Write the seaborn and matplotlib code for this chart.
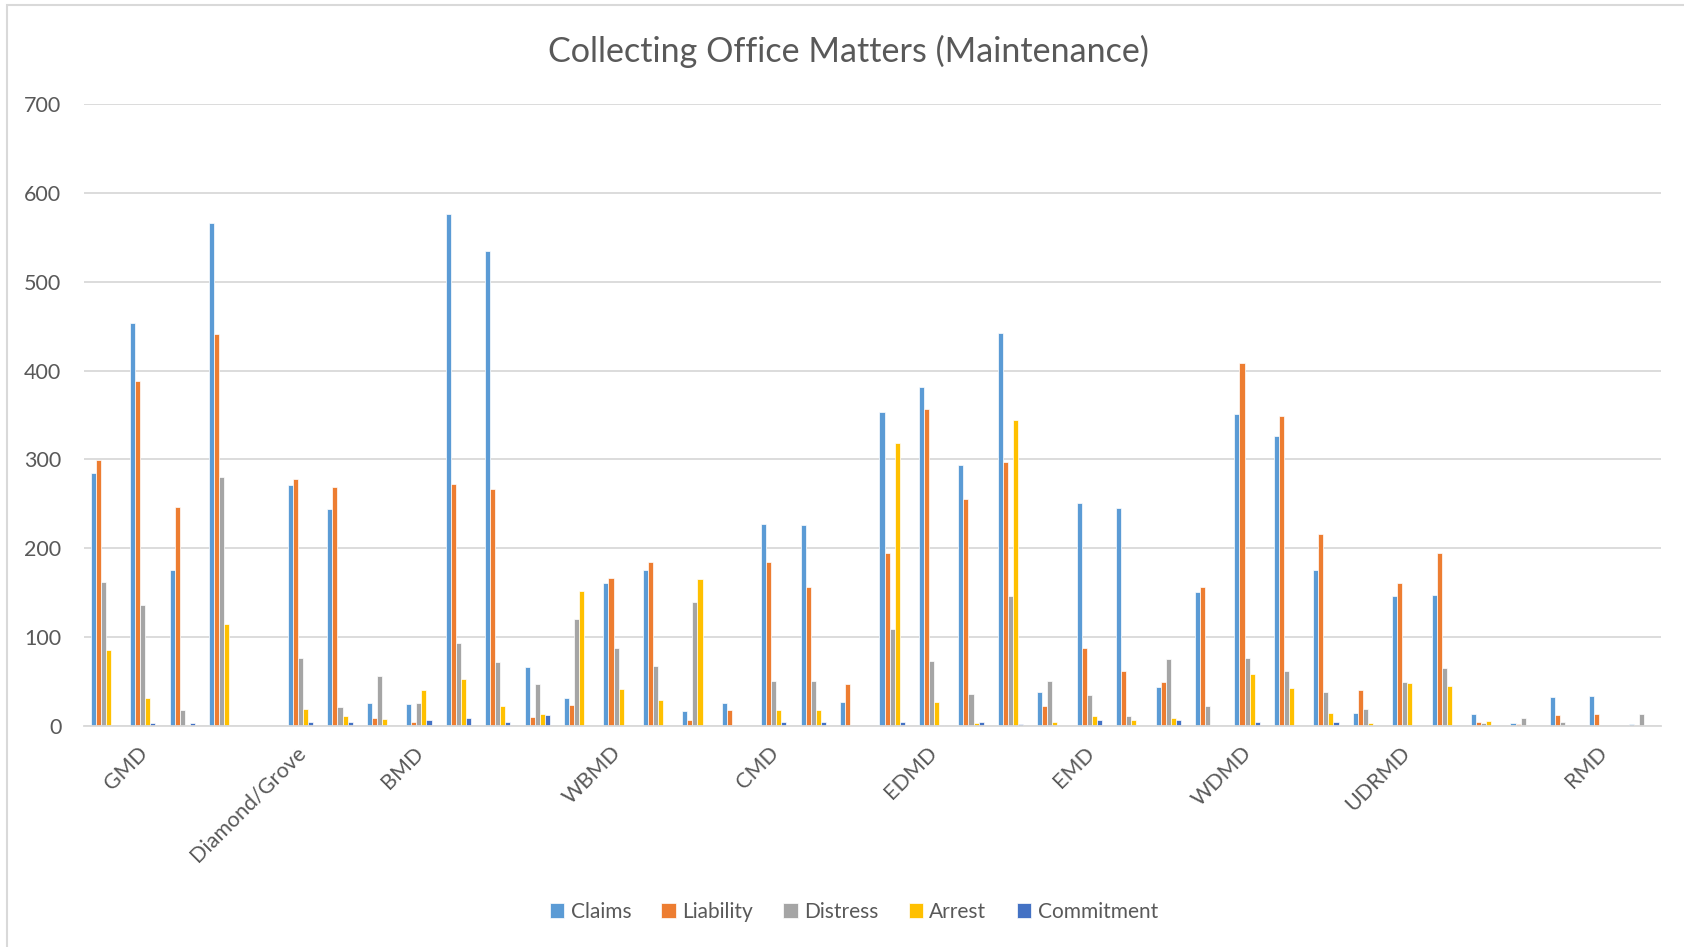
import pandas as pd
import seaborn as sns
import matplotlib.pyplot as plt
from matplotlib.patches import Rectangle
from matplotlib.transforms import ScaledTranslation

# 40 categories, only some carry a visible label
labelled = {1: "GMD", 5: "Diamond/Grove", 8: "BMD", 13: "WBMD", 17: "CMD",
            21: "EDMD", 25: "EMD", 29: "WDMD", 33: "UDRMD", 38: "RMD"}
tick_labels = [labelled.get(i, "") for i in range(40)]

claims = [285, 453, 176, 566, 0, 271, 244, 26, 25, 576,
          535, 66, 31, 161, 175, 17, 26, 227, 226, 27,
          353, 382, 294, 442, 38, 251, 245, 44, 151, 351,
          326, 176, 15, 146, 147, 14, 3, 33, 34, 2]
liability = [299, 388, 246, 441, 0, 278, 269, 9, 5, 272,
             267, 10, 24, 167, 184, 7, 18, 185, 156, 47,
             195, 357, 255, 297, 23, 88, 62, 49, 156, 409,
             349, 216, 40, 161, 195, 5, 2, 12, 13, 1]
distress = [162, 136, 18, 280, 0, 77, 21, 56, 26, 93,
            72, 47, 120, 88, 68, 140, 0, 51, 51, 0,
            109, 73, 36, 146, 51, 35, 11, 75, 23, 77,
            62, 38, 19, 49, 65, 3, 9, 5, 0, 13]
arrest = [86, 31, 1, 115, 0, 19, 11, 8, 40, 53,
          22, 14, 152, 42, 29, 165, 0, 18, 18, 0,
          319, 27, 3, 344, 5, 11, 7, 9, 0, 58,
          43, 15, 3, 48, 45, 6, 0, 0, 0, 0]
commitment = [0, 3, 3, 0, 0, 4, 4, 0, 7, 9,
              4, 12, 0, 0, 0, 0, 0, 5, 5, 0,
              5, 1, 4, 2, 0, 7, 0, 7, 0, 4,
              0, 4, 0, 0, 0, 0, 0, 0, 0, 0]

series = {"Claims": claims, "Liability": liability, "Distress": distress,
          "Arrest": arrest, "Commitment": commitment}
colors = ["#5B9BD5", "#ED7D31", "#A5A5A5", "#FFC000", "#4472C4"]

rows = []
for name, vals in series.items():
    for i, v in enumerate(vals):
        rows.append({"cat": i, "type": name, "value": v})
df = pd.DataFrame(rows)

sns.set_style("white")
plt.rcParams['font.family'] = ['Lato', 'DejaVu Sans']
text_color = "#595959"

fig = plt.figure(figsize=(16.84, 9.47), dpi=100)
ax = fig.add_axes([0.0497, 0.2334, 0.9367, 0.6568])

sns.barplot(data=df, x="cat", y="value", hue="type", palette=colors,
            width=0.64, ax=ax, edgecolor="white", linewidth=0.5,
            saturation=1, errorbar=None, legend=True)

ax.set_ylim(0, 700)
ax.set_xlim(-0.5, 39.5)
ax.set_yticks(range(0, 701, 100))
ax.yaxis.grid(True, color="#D9D9D9", linewidth=1.3)
ax.set_axisbelow(True)
for s in ["left", "right", "top"]:
    ax.spines[s].set_visible(False)
ax.spines["bottom"].set_color("#D9D9D9")
ax.spines["bottom"].set_linewidth(1.3)
ax.set_xticks(range(40))
ax.set_xticklabels(tick_labels, rotation=45, ha="right", fontsize=15.5,
                   color=text_color)
ax.tick_params(axis="x", length=0, pad=12)
ax.tick_params(axis="y", length=0, pad=16, labelsize=15.5,
               labelcolor=text_color)
shift = ScaledTranslation(9 / 100, 0, fig.dpi_scale_trans)
for lab in ax.get_xticklabels():
    lab.set_transform(lab.get_transform() + shift)
ax.set_xlabel("")
ax.set_ylabel("")

handles, labels = ax.get_legend_handles_labels()
ax.legend_.remove()
fig.legend(handles, labels, loc="center", bbox_to_anchor=(0.507, 0.037),
           ncol=5, frameon=False, fontsize=15, labelcolor=text_color,
           handlelength=0.7, handleheight=0.7, handletextpad=0.3,
           columnspacing=1.45)

fig.suptitle("Collecting Office Matters (Maintenance)", x=0.504, y=0.946,
             fontsize=24.6, color=text_color, va="center")

fig.patches.append(Rectangle((7 / 1684, -0.05), 1.2, 1 - 5 / 947 + 0.05,
                             transform=fig.transFigure, fill=False,
                             edgecolor="#D9D9D9", linewidth=1.5))

fig.savefig("out.png", dpi=100)
